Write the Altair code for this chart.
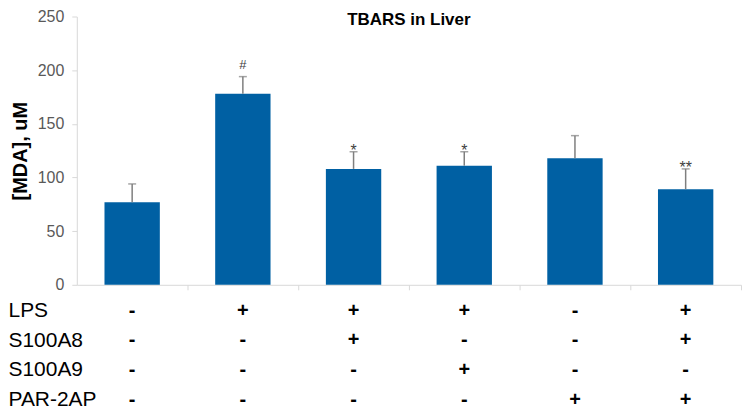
import altair as alt
import pandas as pd

# ---- data ----
groups = ["1", "2", "3", "4", "5", "6"]
means = [77, 178, 108, 111, 118, 89]
errors = [17, 16, 16, 13, 21, 19]
signif = ["", "#", "*", "*", "", "**"]

row_names = ["LPS", "S100A8", "S100A9", "PAR-2AP"]
lps = ["-", "+", "+", "+", "-", "+"]
s100a8 = ["-", "-", "+", "-", "-", "+"]
s100a9 = ["-", "-", "-", "+", "-", "-"]
par2ap = ["-", "-", "-", "-", "+", "+"]

chart_title = "TBARS in Liver"

FONT = "Liberation Sans"
BAR = "#0060A3"
ERR = "#7f7f7f"
AXIS = "#d9d9d9"

bars_df = pd.DataFrame({"group": groups, "mean": means, "err": errors, "sig": signif})

table_rows = []
for name, vals in zip(row_names, [lps, s100a8, s100a9, par2ap]):
    for g, v in zip(groups, vals):
        table_rows.append({"group": g, "row": name, "sign": v})
table_df = pd.DataFrame(table_rows)

xscale = alt.Scale(domain=groups, paddingInner=0, paddingOuter=0)

base = alt.Chart(bars_df).transform_calculate(upper="datum.mean + datum.err")

x_enc = alt.X("group:N", scale=xscale, sort=groups,
              axis=alt.Axis(labels=False, title=None, bandPosition=1,
                            domainColor=AXIS, tickColor=AXIS, tickSize=5,
                            grid=False))
y_axis = alt.Axis(values=[0, 50, 100, 150, 200, 250], title="[MDA], uM",
                  titleFont=FONT, titleFontSize=20, titleFontWeight="bold",
                  titleColor="#000000", titlePadding=7,
                  labelFont=FONT, labelFontSize=16, labelColor="#595959",
                  labelPadding=8, domainColor=AXIS, tickColor=AXIS, tickSize=5,
                  grid=False)
yscale = alt.Scale(domain=[0, 250], nice=False)

bars = base.mark_bar(color=BAR, width={"band": 0.5}).encode(
    x=x_enc,
    y=alt.Y("mean:Q", scale=yscale, axis=y_axis),
)
rules = base.mark_rule(color=ERR, strokeWidth=1.5).encode(
    x=alt.X("group:N", scale=xscale, sort=groups),
    y="mean:Q",
    y2="upper:Q",
)
caps = base.mark_tick(color=ERR, thickness=1.5, size=8, orient="horizontal").encode(
    x=alt.X("group:N", scale=xscale, sort=groups),
    y="upper:Q",
)
hash_txt = base.transform_filter("datum.sig == '#'").mark_text(
    font=FONT, fontSize=13, color="#404040", baseline="alphabetic", dy=-8
).encode(x=alt.X("group:N", scale=xscale, sort=groups), y="upper:Q", text="sig:N")
star_txt = base.transform_filter("indexof(datum.sig, '*') >= 0").mark_text(
    font=FONT, fontSize=16, color="#404040", baseline="alphabetic", dy=4
).encode(x=alt.X("group:N", scale=xscale, sort=groups), y="upper:Q", text="sig:N")

title_txt = alt.Chart(pd.DataFrame({"t": [chart_title]})).mark_text(
    font=FONT, fontSize=17, fontWeight="bold", color="#000000",
    align="center", baseline="middle"
).encode(x=alt.value(333), y=alt.datum(247), text="t:N")

top = alt.layer(bars, rules, caps, hash_txt, star_txt, title_txt).properties(
    width=666, height=269,
)

bottom = alt.Chart(table_df).mark_text(font=FONT, fontSize=20, fontWeight="bold",
                                       color="#000000").encode(
    x=alt.X("group:N", scale=xscale, sort=groups, axis=None),
    y=alt.Y("row:N", sort=row_names,
            scale=alt.Scale(domain=row_names, paddingInner=0, paddingOuter=0),
            axis=alt.Axis(title=None, domain=False, ticks=False, tickSize=0,
                          labelAlign="left", labelBaseline="middle",
                          labelPadding=69, labelFont=FONT, labelFontSize=21,
                          labelColor="#000000")),
    text="sign:N",
).properties(width=666, height=119)

chart = alt.vconcat(top, bottom, spacing=3, padding=0).configure_view(stroke=None)

chart.save("out.html", embed_options={"renderer": "svg", "actions": False})
